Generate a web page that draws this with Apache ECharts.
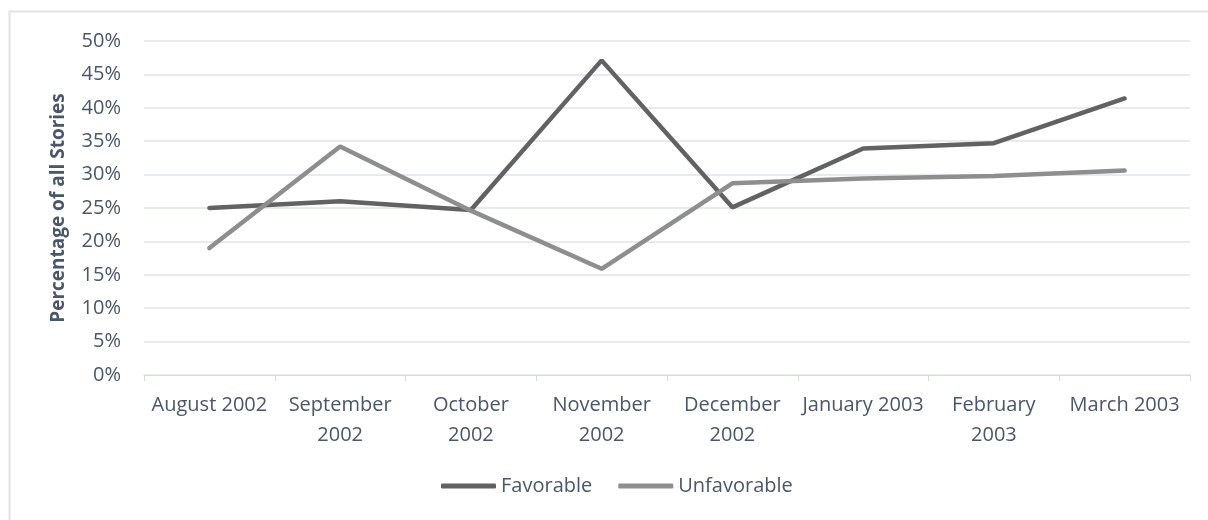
<!DOCTYPE html>
<html>
<head>
<meta charset="utf-8">
<script src="https://cdn.jsdelivr.net/npm/echarts@6/dist/echarts.min.js"></script>
<style>
  html, body { margin: 0; padding: 0; background: #ffffff; }
  #chart { width: 1208px; height: 520px; }
</style>
</head>
<body>
<div id="chart"></div>
<script>
// Monthly share of stories by tone
const months = [
  'August 2002', 'September\n2002', 'October\n2002', 'November\n2002',
  'December\n2002', 'January 2003', 'February\n2003', 'March 2003'
];
const favorable   = [25.0, 26.0, 24.7, 47.1, 25.1, 33.9, 34.7, 41.4];
const unfavorable = [19.0, 34.2, 24.6, 15.9, 28.7, 29.4, 29.8, 30.6];
const yTicks = { min: 0, max: 50, step: 5 };

const textColor = '#4a5669';
const gridColor = '#dfe3ea';
const fontFamily = '"Open Sans", "Noto Sans", sans-serif';

const chart = echarts.init(document.getElementById('chart'));
chart.setOption({
  animation: false,
  backgroundColor: '#ffffff',
  graphic: [{
    type: 'rect',
    shape: { x: 9.5, y: 11.5, width: 1400, height: 700 },
    style: { fill: 'none', stroke: '#e0e4eb', lineWidth: 2 },
    silent: true
  }],
  grid: { left: 144, right: 18, top: 41, bottom: 145 },
  legend: {
    bottom: 19,
    left: 436,
    icon: 'roundRect',
    itemWidth: 55,
    itemHeight: 5,
    itemGap: 26,
    textStyle: { color: textColor, fontSize: 20, fontFamily: fontFamily },
    data: ['Favorable', 'Unfavorable']
  },
  xAxis: {
    type: 'category',
    data: months,
    boundaryGap: true,
    axisLine: { lineStyle: { color: '#d6dae2', width: 1 } },
    axisTick: { show: true, length: 6, lineStyle: { color: '#d6dae2' } },
    axisLabel: {
      color: textColor, fontSize: 20, fontFamily: fontFamily,
      lineHeight: 30, margin: 15, interval: 0
    },
    splitLine: { show: false }
  },
  yAxis: {
    type: 'value',
    min: yTicks.min,
    max: yTicks.max,
    interval: yTicks.step,
    name: 'Percentage of all Stories',
    nameLocation: 'middle',
    nameGap: 76,
    nameTextStyle: { color: textColor, fontSize: 19, fontWeight: 'bold', fontFamily: fontFamily },
    axisLine: { show: false },
    axisTick: { show: false },
    axisLabel: {
      color: textColor, fontSize: 20, fontFamily: fontFamily,
      margin: 23, formatter: '{value}%'
    },
    splitLine: { lineStyle: { color: gridColor, width: 1.5 } }
  },
  series: [
    {
      name: 'Favorable',
      type: 'line',
      data: favorable,
      showSymbol: false,
      symbol: 'none',
      color: '#626262',
      lineStyle: { width: 4.5, color: '#626262', cap: 'round' }
    },
    {
      name: 'Unfavorable',
      type: 'line',
      data: unfavorable,
      showSymbol: false,
      symbol: 'none',
      color: '#8e8e8e',
      lineStyle: { width: 4.5, color: '#8e8e8e', cap: 'round' }
    }
  ]
});
</script>
</body>
</html>
